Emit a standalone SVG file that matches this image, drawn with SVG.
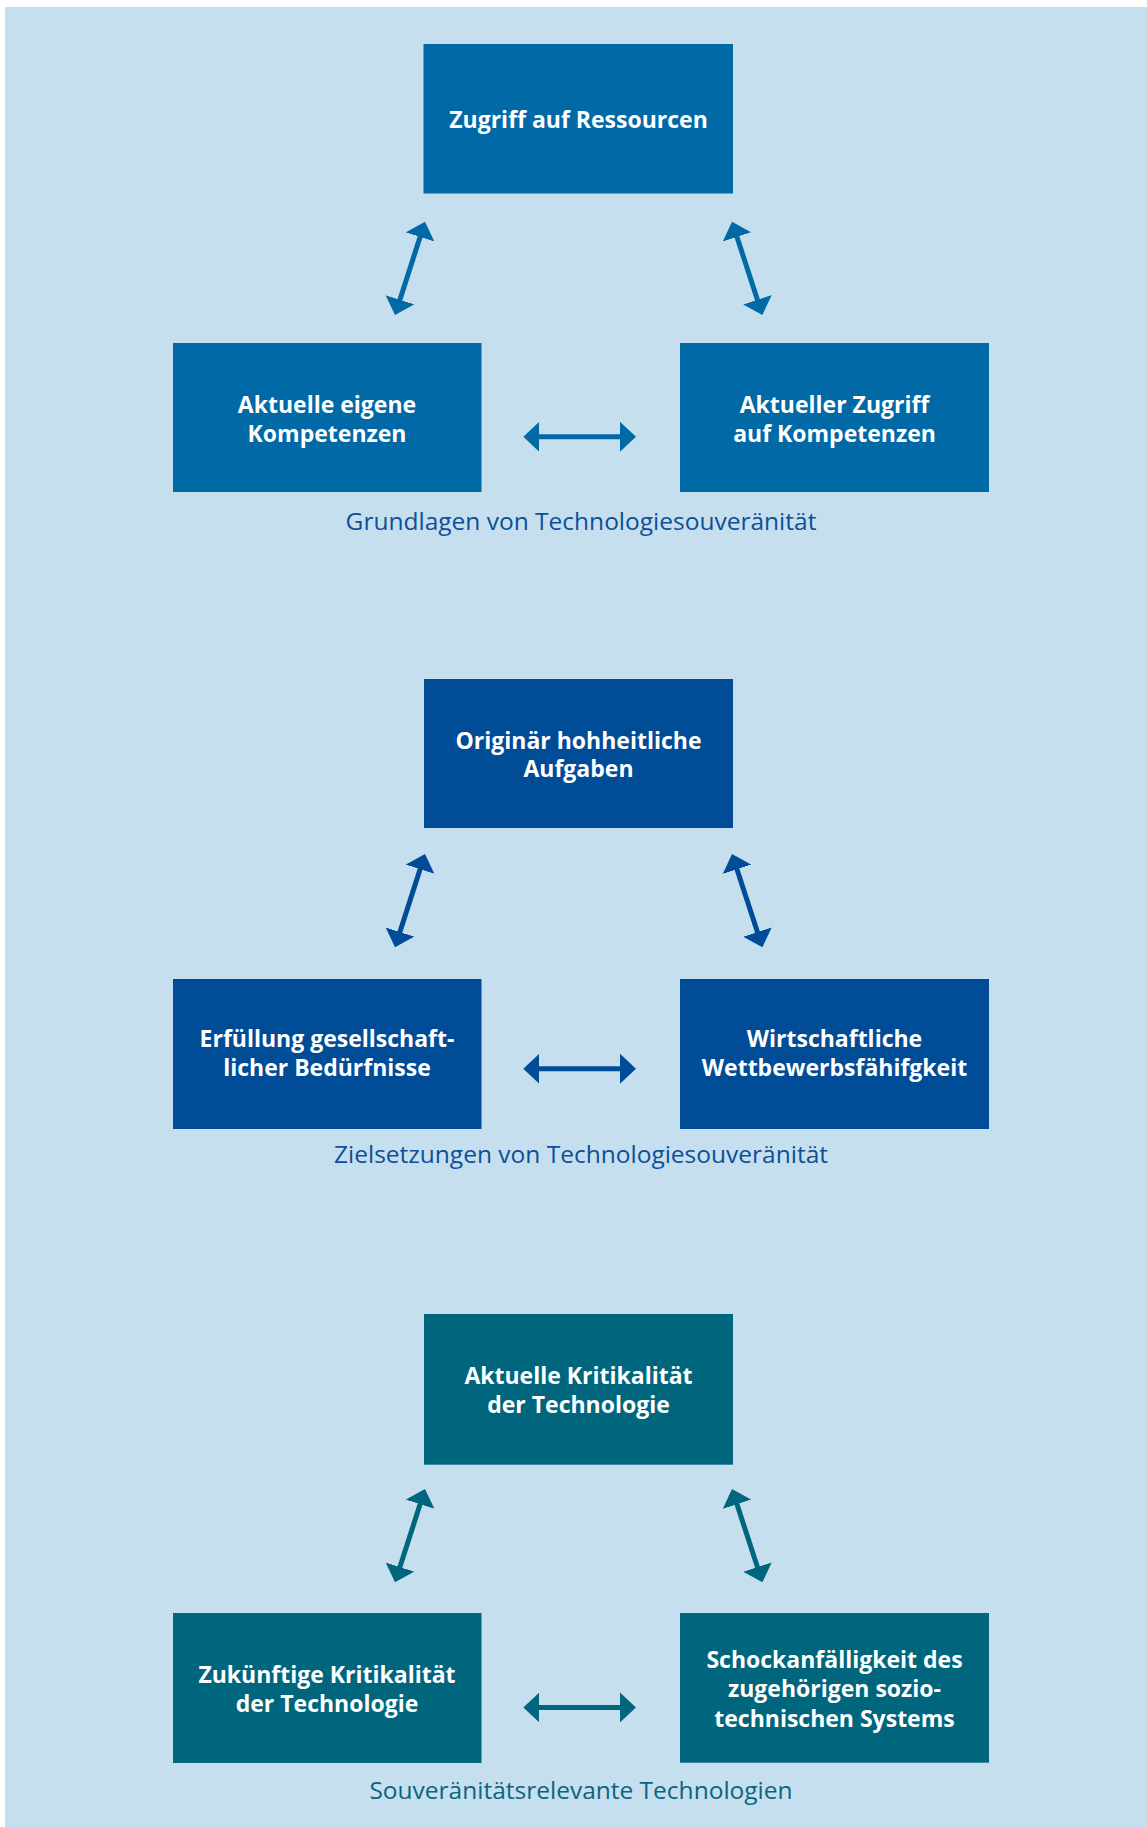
<svg xmlns="http://www.w3.org/2000/svg" width="1147" height="1827" viewBox="0 0 1147 1827">
<style>
.bg{fill:#c6dfee}
.b1{fill:#0069a6}
.b2{fill:#004c97}
.b3{fill:#00667e}
.t{font-family:"Open Sans","Liberation Sans",sans-serif;font-weight:700;font-size:23px;fill:#ffffff;text-anchor:middle}
.cap{font-family:"Open Sans","Liberation Sans",sans-serif;font-weight:400;font-size:24.5px;text-anchor:middle}
.c1{fill:#0d4f98}
.c3{fill:#0a6580}
.l1{stroke:#0069a6;stroke-width:5;fill:none}
.l2{stroke:#004c97;stroke-width:5;fill:none}
.l3{stroke:#00667e;stroke-width:5;fill:none}
</style>
<defs>
<marker id="m1" viewBox="0 0 16 30" refX="1" refY="15" markerWidth="16" markerHeight="30" markerUnits="userSpaceOnUse" orient="auto-start-reverse"><path d="M0,0 L16,15 L0,30 z" fill="#0069a6"/></marker>
<marker id="m2" viewBox="0 0 16 30" refX="1" refY="15" markerWidth="16" markerHeight="30" markerUnits="userSpaceOnUse" orient="auto-start-reverse"><path d="M0,0 L16,15 L0,30 z" fill="#004c97"/></marker>
<marker id="m3" viewBox="0 0 16 30" refX="1" refY="15" markerWidth="16" markerHeight="30" markerUnits="userSpaceOnUse" orient="auto-start-reverse"><path d="M0,0 L16,15 L0,30 z" fill="#00667e"/></marker>
</defs>
<rect x="0" y="0" width="1147" height="1827" fill="#ffffff"/>
<rect class="bg" x="5" y="7" width="1142" height="1820"/>

<g id="n-zugriff-ressourcen"><rect class="b1" x="423.5" y="44" width="309.5" height="149.5"/><text class="t" x="578.5" y="127.5">Zugriff auf Ressourcen</text></g>
<g id="n-eigene-kompetenzen"><rect class="b1" x="173" y="343" width="308.5" height="149"/><text class="t" x="327" y="412.5">Aktuelle eigene</text><text class="t" x="327" y="441.5">Kompetenzen</text></g>
<g id="n-zugriff-kompetenzen"><rect class="b1" x="680" y="343" width="309" height="149"/><text class="t" x="834.5" y="412.5">Aktueller Zugriff</text><text class="t" x="834.5" y="441.5">auf Kompetenzen</text></g>
<g id="cap-grundlagen"><text class="cap c1" x="581" y="530">Grundlagen von Technologiesouveränität</text></g>

<g id="n-hoheitliche-aufgaben"><rect class="b2" x="424" y="679" width="309" height="149"/><text class="t" x="578.5" y="748.5">Originär hohheitliche</text><text class="t" x="578.5" y="777.3">Aufgaben</text></g>
<g id="n-beduerfnisse"><rect class="b2" x="173" y="979" width="308.5" height="150"/><text class="t" x="327" y="1047.3">Erfüllung gesellschaft-</text><text class="t" x="327" y="1076">licher Bedürfnisse</text></g>
<g id="n-wettbewerb"><rect class="b2" x="680" y="979" width="309" height="150"/><text class="t" x="834.5" y="1047.3">Wirtschaftliche</text><text class="t" x="834.5" y="1076">Wettbewerbsfähifgkeit</text></g>
<g id="cap-zielsetzungen"><text class="cap c1" x="581" y="1163.3">Zielsetzungen von Technologiesouveränität</text></g>

<g id="n-aktuelle-kritikalitaet"><rect class="b3" x="424" y="1314" width="309" height="150.7"/><text class="t" x="578.5" y="1384">Aktuelle Kritikalität</text><text class="t" x="578.5" y="1413">der Technologie</text></g>
<g id="n-zukuenftige-kritikalitaet"><rect class="b3" x="173" y="1613" width="308.5" height="150"/><text class="t" x="327" y="1683.2">Zukünftige Kritikalität</text><text class="t" x="327" y="1712">der Technologie</text></g>
<g id="n-schockanfaelligkeit"><rect class="b3" x="680" y="1613" width="309" height="149.7"/><text class="t" x="834.5" y="1668.3">Schockanfälligkeit des</text><text class="t" x="834.5" y="1697.3">zugehörigen sozio-</text><text class="t" x="834.5" y="1726.7">technischen Systems</text></g>
<g id="cap-souveraenitaet"><text class="cap c3" x="581" y="1799.3">Souveränitätsrelevante Technologien</text></g>

<g id="connectors">
<line class="l1" x1="420.4" y1="236" x2="399.6" y2="300.7" marker-start="url(#m1)" marker-end="url(#m1)"/>
<line class="l1" x1="736.65" y1="236" x2="757.75" y2="300.7" marker-start="url(#m1)" marker-end="url(#m1)"/>
<line class="l1" x1="538.3" y1="436.8" x2="621" y2="436.8" marker-start="url(#m1)" marker-end="url(#m1)"/>
<line class="l2" x1="420.4" y1="868.3" x2="399.6" y2="933" marker-start="url(#m2)" marker-end="url(#m2)"/>
<line class="l2" x1="736.65" y1="868.3" x2="757.75" y2="933" marker-start="url(#m2)" marker-end="url(#m2)"/>
<line class="l2" x1="538.3" y1="1068.7" x2="621" y2="1068.7" marker-start="url(#m2)" marker-end="url(#m2)"/>
<line class="l3" x1="420.4" y1="1503.3" x2="399.6" y2="1568" marker-start="url(#m3)" marker-end="url(#m3)"/>
<line class="l3" x1="736.65" y1="1503.3" x2="757.75" y2="1568" marker-start="url(#m3)" marker-end="url(#m3)"/>
<line class="l3" x1="538.3" y1="1707.4" x2="621" y2="1707.4" marker-start="url(#m3)" marker-end="url(#m3)"/>
</g>
</svg>
